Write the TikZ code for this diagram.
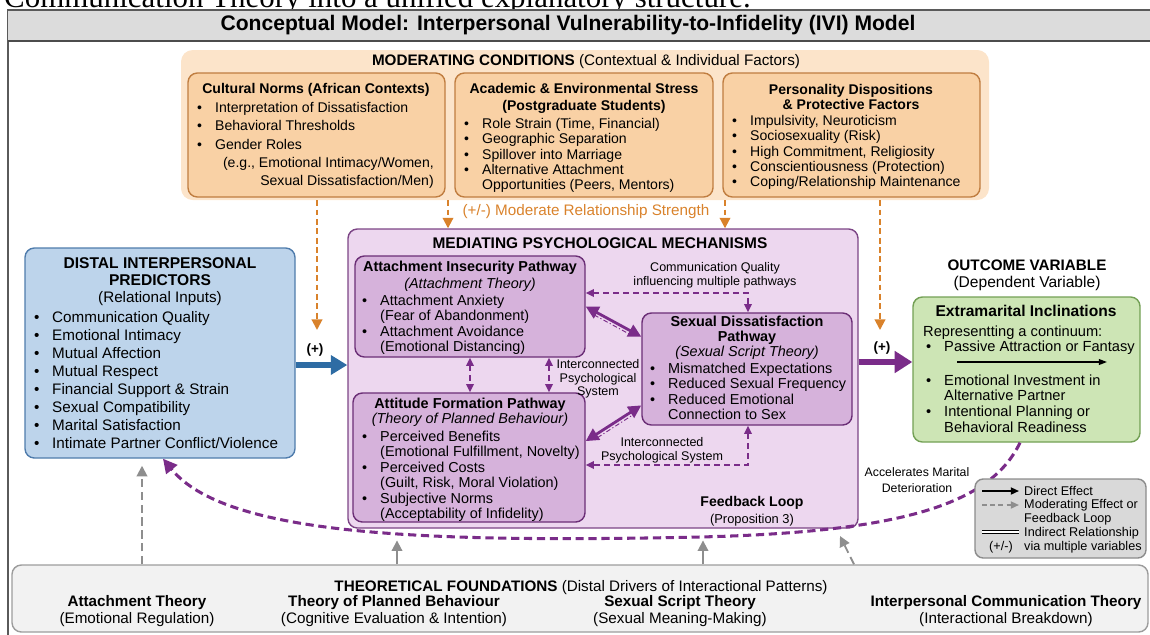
\documentclass[tikz,border=0pt]{standalone}
\usepackage{fontspec}
\setmainfont{Liberation Sans}
\newfontfamily\capserif{Liberation Serif}
\usetikzlibrary{arrows.meta,fit}

\definecolor{frameGray}{HTML}{5A5A5A}
\definecolor{barGray}{HTML}{DCDCDC}
\definecolor{modBack}{HTML}{FCE4CA}
\definecolor{modFill}{HTML}{F9D1A5}
\definecolor{modLine}{HTML}{C07D40}
\definecolor{modArrow}{HTML}{D9822B}
\definecolor{distFill}{HTML}{BDD4EB}
\definecolor{distLine}{HTML}{4F7CAC}
\definecolor{distArrow}{HTML}{2E6CA4}
\definecolor{medFill}{HTML}{EDD7EF}
\definecolor{medLine}{HTML}{7C4586}
\definecolor{pathFill}{HTML}{D6B2DB}
\definecolor{pathLine}{HTML}{6B2E76}
\definecolor{purpArrow}{HTML}{7A2C89}
\definecolor{outFill}{HTML}{CDE5B5}
\definecolor{outLine}{HTML}{73A055}
\definecolor{legFill}{HTML}{D9D9D9}
\definecolor{legLine}{HTML}{8C8C8C}
\definecolor{foundFill}{HTML}{F2F2F2}
\definecolor{foundLine}{HTML}{9C9C9C}
\definecolor{tieGray}{HTML}{8E8E8E}

\newdimen\px \px=0.03cm
\newcommand{\itembul}{\makebox[18\px][l]{\textbullet}}
\newcommand{\bulgap}{\hspace*{18\px}}
\newcommand{\fsz}[2]{\fontsize{#1}{#2}\selectfont}

\begin{document}
\begin{tikzpicture}[x=0.03cm, y=-0.03cm,
		every node/.append style={inner sep=0pt},
		>={Triangle[length=7pt,width=6.5pt]},
		box/.style={rounded corners=8pt, line width=1.2pt},
		modbox/.style={box, fill=modFill, draw=modLine},
		pathbox/.style={box, fill=pathFill, draw=pathLine},
		txt/.style={align=left, anchor=north west},
		modarrow/.style={draw=modArrow, line width=1.7pt, dash pattern=on 5pt off 3pt,
				-{Triangle[length=9pt,width=9pt]}},
		pdash/.style={draw=purpArrow, line width=1.3pt, dash pattern=on 5pt off 3.5pt},
		bilink/.style={draw=purpArrow, line width=2.4pt,
				{Triangle[length=11pt,width=11pt]}-{Triangle[length=11pt,width=11pt]}},
		bishadow/.style={draw=purpArrow, line width=0.8pt, dash pattern=on 4pt off 2pt on 1pt off 2pt,
				shorten <=10pt, shorten >=10pt},
		fbcurve/.style={draw=purpArrow, line width=2.6pt, dash pattern=on 7pt off 4pt,
				-{Triangle[length=12pt,width=12pt]}},
		graysolid/.style={draw=tieGray, line width=1.6pt, -{Triangle[length=9pt,width=9pt]}},
		graydash/.style={graysolid, dash pattern=on 7pt off 4pt}]

	% page and title bar
	\path[use as bounding box, clip] (0,0) rectangle (1150,634);
	\node[anchor=base west, font=\capserif\fsz{26.4}{30}] (capline) at (4,7)
	{Communication Theory into a unified explanatory structure.};
	\draw[frameGray, line width=1.2pt] (8,10) rectangle (1170,660);
	\fill[barGray] (8,10) rectangle (1170,41);
	\draw[frameGray, line width=1pt] (8,10) -- (1170,10);
	\draw[black!70, line width=2pt] (8,41) -- (1170,41);
	\node[font=\bfseries\fsz{18}{20}] (title) at (568,25)
	{Conceptual Model: Interpersonal Vulnerability-to-Infidelity (IVI) Model};

	% moderating conditions
	\node[fill=modBack, rounded corners=10pt, fit={(181,50) (989,200)}] (mod) {};
	\node[font=\fsz{13}{15}] (modT) at (586,62)
	{\textbf{MODERATING CONDITIONS} (Contextual \& Individual Factors)};

	\node[modbox, fit={(188,73) (445,197)}] (cult) {};
	\node[font=\bfseries\fsz{12}{14}] (cultT) at (316,90) {Cultural Norms (African Contexts)};
	\node[txt, font=\fsz{12}{15.4}] (cultL) at (197,102.5)
	{\itembul Interpretation of Dissatisfaction\\ \itembul Behavioral Thresholds\\ \itembul Gender Roles};
	\node[txt, anchor=north east, align=right, font=\fsz{12}{14.8}] (cultE) at (434,157.5)
	{(e.g., Emotional Intimacy/Women,\\ Sexual Dissatisfaction/Men)};

	\node[modbox, fit={(455,73) (713,197)}] (acad) {};
	\node[align=center, font=\bfseries\fsz{12}{14.5}] (acadT) at (584,98.5)
	{Academic \& Environmental Stress\\(Postgraduate Students)};
	\node[txt, font=\fsz{12}{13.2}] (acadL) at (464,117.7)
	{\itembul Role Strain (Time, Financial)\\ \itembul Geographic Separation\\
		\itembul Spillover into Marriage\\ \itembul Alternative Attachment\\
		\bulgap Opportunities (Peers, Mentors)};

	\node[modbox, fit={(723,73) (980,197)}] (pers) {};
	\node[align=center, font=\bfseries\fsz{12}{12.8}] (persT) at (851,96.5)
	{Personality Dispositions\\\& Protective Factors};
	\node[txt, font=\fsz{12}{13.2}] (persL) at (732,114.7)
	{\itembul Impulsivity, Neuroticism\\ \itembul Sociosexuality (Risk)\\
		\itembul High Commitment, Religiosity\\ \itembul Conscientiousness (Protection)\\
		\itembul Coping/Relationship Maintenance};

	% distal predictors
	\node[box, fill=distFill, draw=distLine, fit={(25,248) (295,458)}] (dist) {};
	\node[align=center, font=\bfseries\fsz{13.3}{14.5}] (distT) at (160,271.5)
	{DISTAL INTERPERSONAL\\PREDICTORS};
	\node[font=\fsz{13}{15}] (distS) at (160,299) {(Relational Inputs)};
	\node[txt, font=\fsz{13}{15.4}] (distL) at (34,311.2)
	{\itembul Communication Quality\\ \itembul Emotional Intimacy\\ \itembul Mutual Affection\\
		\itembul Mutual Respect\\ \itembul Financial Support \& Strain\\ \itembul Sexual Compatibility\\
		\itembul Marital Satisfaction\\ \itembul Intimate Partner Conflict/Violence};

	% mediating mechanisms
	\node[box, fill=medFill, draw=medLine, fit={(348,229) (858,528)}] (med) {};
	\node[font=\bfseries\fsz{13.2}{15}] (medT) at (600,243) {MEDIATING PSYCHOLOGICAL MECHANISMS};

	\node[pathbox, fit={(355,256) (585,357)}] (att) {};
	\node[font=\bfseries\fsz{12.3}{14}] (attT) at (470,268) {Attachment Insecurity Pathway};
	\node[font=\itshape\fsz{12.3}{14}] (attS) at (470,284.5) {(Attachment Theory)};
	\node[txt, font=\fsz{12.3}{13.2}] (attL) at (362,294.8)
	{\itembul Attachment Anxiety\\ \bulgap(Fear of Abandonment)\\
		\itembul Attachment Avoidance\\ \bulgap(Emotional Distancing)};

	\node[pathbox, fit={(353,393) (585,522)}] (atf) {};
	\node[font=\bfseries\fsz{12.3}{14}] (atfT) at (470,405) {Attitude Formation Pathway};
	\node[font=\itshape\fsz{12.3}{14}] (atfS) at (470,420) {(Theory of Planned Behaviour)};
	\node[txt, font=\fsz{12.3}{13.2}] (atfL) at (362,430.8)
	{\itembul Perceived Benefits\\ \bulgap(Emotional Fulfillment, Novelty)\\
		\itembul Perceived Costs\\ \bulgap(Guilt, Risk, Moral Violation)\\
		\itembul Subjective Norms\\ \bulgap(Acceptability of Infidelity)};

	\node[pathbox, fit={(642,313) (852,425)}] (sex) {};
	\node[align=center, font=\bfseries\fsz{12.3}{12.8}] (sexT) at (747,330.5)
	{Sexual Dissatisfaction\\Pathway};
	\node[font=\itshape\fsz{12.3}{14}] (sexS) at (747,353) {(Sexual Script Theory)};
	\node[txt, font=\fsz{12.3}{13.2}] (sexL) at (650,362.8)
	{\itembul Mismatched Expectations\\ \itembul Reduced Sexual Frequency\\
		\itembul Reduced Emotional\\ \bulgap Connection to Sex};

	% links between pathways
	\node[align=center, font=\fsz{10.7}{12}] (commT) at (715,275)
	{Communication Quality\\influencing multiple pathways};
	\coordinate (cq) at (748,293);
	\draw[pdash, <->] (cq -| att.east) -| (cq |- sex.north);
	\draw[bilink] (att.east) -- (sex.163);
	\draw[bishadow, transform canvas={xshift=-1.5pt, yshift=-2.5pt}] (att.east) -- (sex.163);
	\draw[bilink] (atf.8) -- (sex.199);
	\draw[bishadow, transform canvas={xshift=1.7pt, yshift=-2.4pt}] (atf.8) -- (sex.199);
	\coordinate (vA) at (470,0);
	\coordinate (vB) at (549,0);
	\draw[pdash, <->] (att.south -| vA) -- (atf.north -| vA);
	\draw[pdash, <->] (att.south -| vB) -- (atf.north -| vB);
	\node[align=center, font=\fsz{10.7}{11.6}] (icA) at (598,379)
	{Interconnected\\Psychological\\System};
	\coordinate (lq) at (748,465);
	\draw[pdash, <->] (lq |- sex.south) |- (lq -| atf.east);
	\node[align=center, font=\fsz{10.7}{12}] (icB) at (662,450)
	{Interconnected\\Psychological System};
	\node[font=\bfseries\fsz{12}{14}] (fbT) at (752,503) {Feedback Loop};
	\node[font=\fsz{11}{13}] (fbS) at (752,520) {(Proposition 3)};

	% outcome
	\node[font=\bfseries\fsz{13}{15}] (outT) at (1027,265) {OUTCOME VARIABLE};
	\node[font=\fsz{13.3}{15}] (outS) at (1027,283) {(Dependent Variable)};
	\node[box, fill=outFill, draw=outLine, fit={(913,297) (1140,442)}] (ext) {};
	\node[font=\bfseries\fsz{13.3}{15}] (extT) at (1026,311) {Extramarital Inclinations};
	\node[txt, font=\fsz{12.5}{13.3}] (extL) at (923,325.5)
	{Representting a continuum:\\ \hspace*{3\px}\itembul Passive Attraction or Fantasy};
	\coordinate (contA) at (957,362);
	\coordinate (contB) at (1107,362);
	\draw[line width=1.2pt, -{Triangle[length=7pt,width=5pt]}] (contA) -- (contB);
	\node[txt, font=\fsz{12.5}{13.3}] (extM) at (926,374.5)
	{\itembul Emotional Investment in\\ \bulgap Alternative Partner\\
		\itembul Intentional Planning or\\ \bulgap Behavioral Readiness};

	% main effects
	\coordinate (ba) at (0,365);
	\draw[distArrow, line width=4.5pt, -{Triangle[length=14pt,width=16pt]}] (dist.east |- ba) -- (med.west |- ba);
	\node[font=\bfseries\fsz{11.5}{13}] (plusA) at (315,350) {(+)};
	\coordinate (pa) at (0,362);
	\draw[purpArrow, line width=5pt, -{Triangle[length=15pt,width=18pt]}] (med.east |- pa) -- (ext.west |- pa);
	\node[font=\bfseries\fsz{11.5}{13}] (plusB) at (882,348) {(+)};

	% moderating arrows
	\coordinate (modL) at (317,330);
	\coordinate (modR) at (880,330);
	\coordinate (modA) at (448,0);
	\coordinate (modB) at (725,0);
	\draw[modarrow] (mod.south -| modL) -- (modL);
	\draw[modarrow] (mod.south -| modR) -- (modR);
	\draw[modarrow] (mod.south -| modA) -- (med.north -| modA);
	\draw[modarrow] (mod.south -| modB) -- (med.north -| modB);
	\node[text=modArrow, font=\fsz{13}{15}] (modS) at (586,212) {(+/-) Moderate Relationship Strength};

	% feedback loop
	\coordinate (fbA) at (1020,0);
	\coordinate (fbB) at (163,0);
	\draw[fbcurve] (ext.south -| fbA) .. controls (990,505) and (900,532) .. (700,537)
	.. controls (420,543) and (225,535) .. (dist.south -| fbB);
	\node[align=center, font=\fsz{10.5}{13}] (accT) at (917,480)
	{Accelerates Marital\\Deterioration};

	% legend
	\node[box, fill=legFill, draw=legLine, rounded corners=7pt, fit={(975,479) (1146,558)}] (leg) {};
	\coordinate (lgA) at (982,491);
	\coordinate (lgB) at (1019,491);
	\draw[line width=1.5pt, -{Triangle[length=7pt,width=6pt]}] (lgA) -- (lgB);
	\node[anchor=west, font=\fsz{10.8}{12}] (lgT1) at (1024,491) {Direct Effect};
	\coordinate (lgC) at (982,505);
	\coordinate (lgD) at (1019,505);
	\draw[tieGray, line width=1.5pt, dash pattern=on 4pt off 3pt, -{Triangle[length=7pt,width=6pt]}] (lgC) -- (lgD);
	\node[txt, font=\fsz{10.8}{12}] (lgT2) at (1024,499.5) {Moderating Effect or\\Feedback Loop};
	\coordinate (lgE) at (982,532);
	\coordinate (lgF) at (1019,532);
	\draw[line width=0.9pt, double, double distance=1.6pt] (lgE) -- (lgF);
	\node[txt, font=\fsz{10.8}{12}] (lgT3) at (1024,527.5) {Indirect Relationship\\via multiple variables};
	\node[font=\fsz{10.8}{12}] (lgT4) at (1001,547) {(+/-)};

	% theoretical foundations
	\node[box, fill=foundFill, draw=foundLine, fit={(12,565) (1148,632)}] (found) {};
	\node[font=\fsz{13}{15}] (foundT) at (581,588)
	{\textbf{THEORETICAL FOUNDATIONS} (Distal Drivers of Interactional Patterns)};
	\node[align=center, font=\fsz{13}{14.5}] (fdA) at (137,611.5)
	{\textbf{Attachment Theory}\\(Emotional Regulation)};
	\node[align=center, font=\fsz{13}{14.5}] (fdB) at (394,611.5)
	{\textbf{Theory of Planned Behaviour}\\(Cognitive Evaluation \& Intention)};
	\node[align=center, font=\fsz{13}{14.5}] (fdC) at (680,611.5)
	{\textbf{Sexual Script Theory}\\(Sexual Meaning-Making)};
	\node[align=center, font=\fsz{13}{14.5}] (fdD) at (1006,611.5)
	{\textbf{Interpersonal Communication Theory}\\(Interactional Breakdown)};

	% links from theory
	\coordinate (gA) at (142,0);
	\coordinate (gB) at (397,0);
	\coordinate (gC) at (703,0);
	\coordinate (gD) at (854,0);
	\coordinate (gDe) at (840,536);
	\draw[graydash, shorten >=6pt] (found.north -| gA) -- (dist.south -| gA);
	\draw[graysolid, shorten >=10pt] (found.north -| gB) -- (med.south -| gB);
	\draw[graysolid, shorten >=10pt] (found.north -| gC) -- (med.south -| gC);
	\draw[graydash] (found.north -| gD) -- (gDe);
\end{tikzpicture}
\end{document}
